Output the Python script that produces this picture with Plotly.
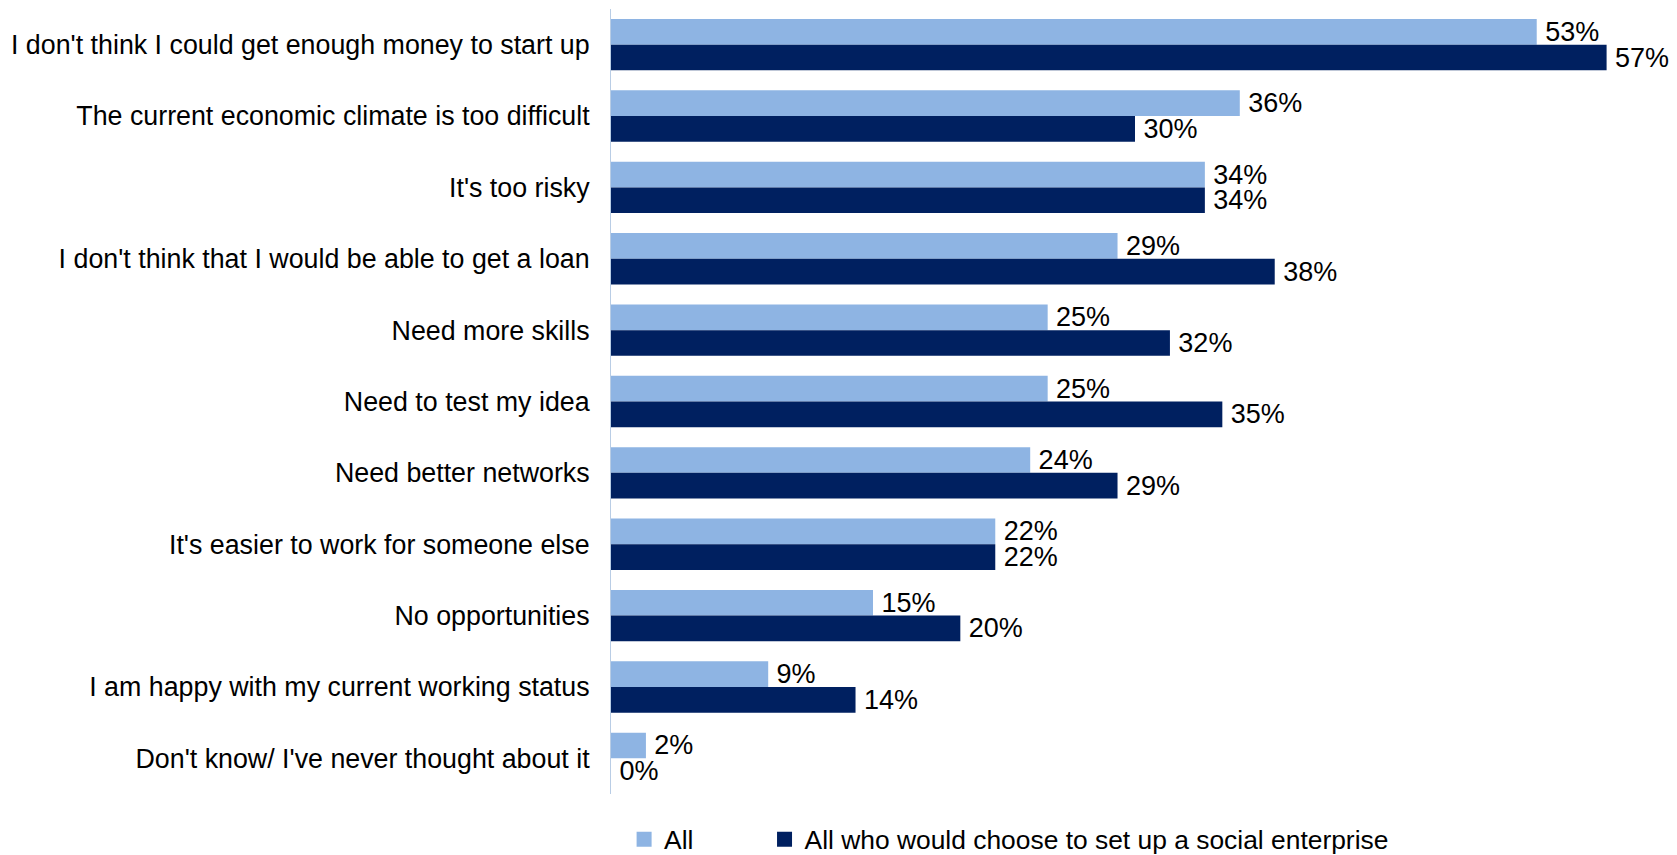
import plotly.graph_objects as go

categories = [
    "I don't think I could get enough money to start up",
    "The current economic climate is too difficult",
    "It's too risky",
    "I don't think that I would be able to get a loan",
    "Need more skills",
    "Need to test my idea",
    "Need better networks",
    "It's easier to work for someone else",
    "No opportunities",
    "I am happy with my current working status",
    "Don't know/ I've never thought about it",
]
all_values = [53, 36, 34, 29, 25, 25, 24, 22, 15, 9, 2]
social_values = [57, 30, 34, 38, 32, 35, 29, 22, 20, 14, 0]
series_names = ["All", "All who would choose to set up a social enterprise"]
series_colors = ["#8EB4E3", "#002060"]

FONT = "Liberation Sans, Arial, sans-serif"
FS = 27

fig = go.Figure()
for vals, name, color, leg in zip([all_values, social_values], series_names,
                                  series_colors, ["legend", "legend2"]):
    fig.add_trace(go.Bar(
        y=categories, x=vals, orientation="h", name=name,
        marker=dict(color=color, line=dict(width=0)),
        texttemplate="\u2009%{x}%", textposition="outside", cliponaxis=False,
        constraintext="none", textfont=dict(color="black", size=FS, family=FONT),
        showlegend=False,
    ))
    # legend entry with a larger square swatch
    fig.add_trace(go.Scatter(
        x=[None], y=[None], mode="markers", name=name,
        marker=dict(symbol="square", size=15, color=color),
        legend=leg, showlegend=True, hoverinfo="skip",
    ))

legend_common = dict(orientation="h", y=-0.058, yanchor="middle",
                     font=dict(size=26.4, family=FONT), itemwidth=30,
                     bgcolor="rgba(0,0,0,0)")

fig.update_layout(
    width=1669, height=847,
    barmode="group", bargap=0.28, bargroupgap=0,
    paper_bgcolor="white", plot_bgcolor="white",
    margin=dict(l=603, r=18, t=1, b=61, autoexpand=False),
    font=dict(family=FONT, size=FS, color="black"),
    xaxis=dict(range=[0, 60], showticklabels=False, showgrid=False,
               zeroline=False, showline=False, fixedrange=True),
    yaxis=dict(autorange="reversed", showline=True, linecolor="#B9CDE5",
               linewidth=1, ticks="", ticklabelstandoff=15, automargin=False,
               tickfont=dict(size=26.8, family=FONT, color="black")),
    legend=dict(x=0.0125, xanchor="left", **legend_common),
    legend2=dict(x=0.1465, xanchor="left", **legend_common),
    showlegend=True,
)

fig.write_html("out.html")
